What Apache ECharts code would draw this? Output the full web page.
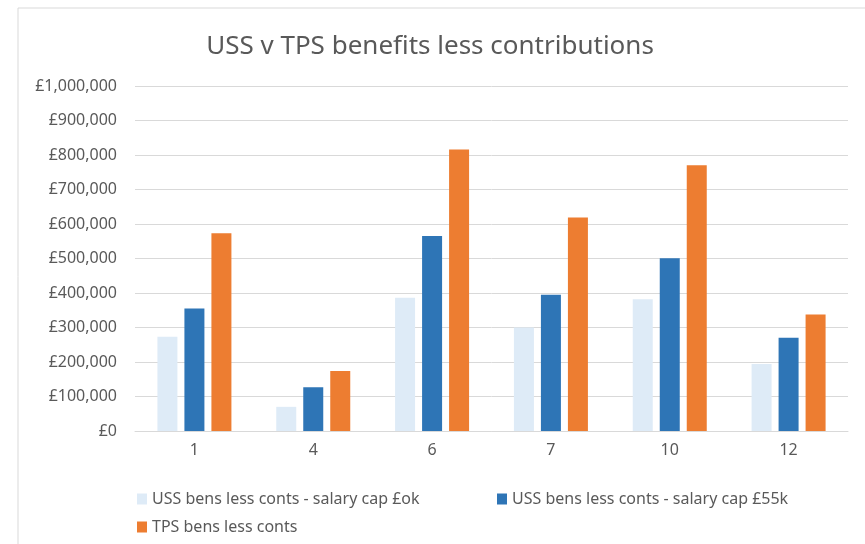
<!DOCTYPE html>
<html>
<head>
<meta charset="utf-8">
<script src="https://cdn.jsdelivr.net/npm/echarts@6/dist/echarts.min.js"></script>
<style>
  html, body { margin: 0; padding: 0; background: #fff; }
  #chart { width: 865px; height: 544px; }
</style>
</head>
<body>
<div id="chart"></div>
<script>
// values
let categories = ['1', '4', '6', '7', '10', '12'];
let uss_cap0 = [273000, 70000, 386000, 300000, 382000, 194000];
let uss_cap55 = [355000, 127000, 565000, 395000, 501000, 270000];
let tps = [573000, 174000, 816000, 619000, 770000, 338000];
let series_names = [
    'USS bens less conts - salary cap £ok',
    'USS bens less conts - salary cap £55k',
    'TPS bens less conts'
];
let colors = ['#deebf7', '#2e75b6', '#ed7d31'];

let font = '"Noto Sans", "Open Sans", sans-serif';
let grey = '#595959';

function money(v) {
    return '£' + v.toLocaleString('en-GB');
}

let legend_style = {
    icon: 'rect',
    itemWidth: 10,
    itemHeight: 11,
    itemGap: 40,
    textStyle: { color: grey, fontSize: 16, fontFamily: font }
};

let option = {
    animation: false,
    color: colors,
    title: {
        text: 'USS v TPS benefits less contributions',
        left: 425,
        textAlign: 'center',
        top: 29,
        textStyle: { color: grey, fontSize: 26, fontWeight: 'normal', fontFamily: font }
    },
    graphic: [{
        type: 'rect',
        shape: { x: 18, y: 8, width: 900, height: 600 },
        style: { fill: 'none', stroke: '#d9d9d9', lineWidth: 1 },
        silent: true
    }],
    legend: [
        Object.assign({ data: [series_names[0]], left: 132, top: 486 }, legend_style),
        Object.assign({ data: [series_names[1]], left: 492, top: 486 }, legend_style),
        Object.assign({ data: [series_names[2]], left: 132, top: 514 }, legend_style)
    ],
    grid: { left: 135, right: 17, top: 86, bottom: 113 },
    xAxis: {
        type: 'category',
        data: categories,
        axisLine: { lineStyle: { color: '#d9d9d9' } },
        axisTick: { show: false },
        axisLabel: { color: grey, fontSize: 16, fontFamily: font, margin: 11 }
    },
    yAxis: {
        type: 'value',
        min: 0,
        max: 1000000,
        interval: 100000,
        axisLine: { show: false },
        axisTick: { show: false },
        splitLine: { lineStyle: { color: '#d9d9d9', width: 1 } },
        axisLabel: {
            color: grey, fontSize: 16, fontFamily: font, margin: 18,
            formatter: money
        }
    },
    series: [
        { name: series_names[0], type: 'bar', data: uss_cap0, barWidth: 20, barGap: '35%' },
        { name: series_names[1], type: 'bar', data: uss_cap55, barWidth: 20, barGap: '35%' },
        { name: series_names[2], type: 'bar', data: tps, barWidth: 20, barGap: '35%' }
    ]
};

let myChart = echarts.init(document.getElementById('chart'));
myChart.setOption(option);
</script>
</body>
</html>
